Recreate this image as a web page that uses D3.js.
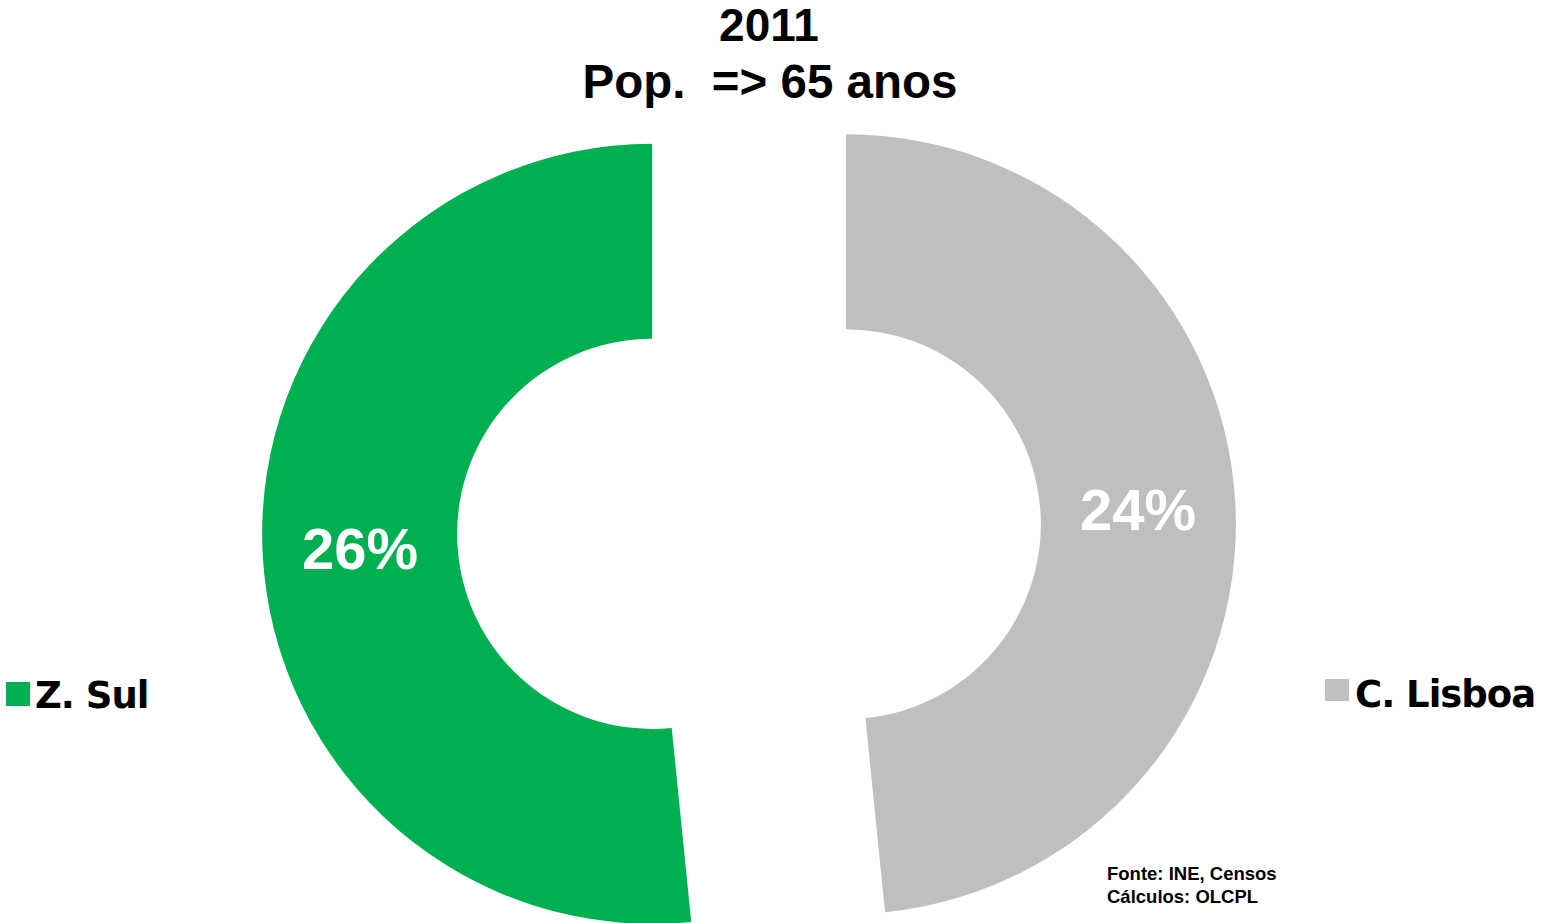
<!DOCTYPE html>
<html>
<head>
<meta charset="utf-8">
<script src="https://cdn.jsdelivr.net/npm/d3@7"></script>
<style>
  body { margin: 0; background: #fff; }
  svg { display: block; }
</style>
</head>
<body>
<svg width="1551" height="923" viewBox="0 0 1551 923"></svg>
<script>
// Data
const categories = ["C. Lisboa", "Z. Sul"];
const values = [24.2, 25.8];
const labels = ["24%", "26%"];
const colors = ["#BFBFBF", "#00B050"];
const titleLines = ["2011", "Pop.  => 65 anos"];
const sourceLines = ["Fonte: INE, Censos", "Cálculos: OLCPL"];

const svg = d3.select("svg");
const cx = 749, cy = 529;
const outerR = 390, innerR = 195;
const explode = 97;

const pie = d3.pie().sort(null).value(d => d.value);
const arc = d3.arc().innerRadius(innerR).outerRadius(outerR);

const data = categories.map((c, i) => ({ name: c, value: values[i], label: labels[i], color: colors[i] }));
const arcs = pie(data);

const chart = svg.append("g").attr("transform", `translate(${cx},${cy})`);

// Exploded slices
const slices = chart.selectAll(".slice")
    .data(arcs)
    .enter()
    .append("g")
    .attr("class", "slice")
    .attr("transform", d => {
        const mid = (d.startAngle + d.endAngle) / 2;
        return `translate(${Math.sin(mid) * explode},${-Math.cos(mid) * explode})`;
    });

slices.append("path")
    .attr("d", arc)
    .attr("fill", d => d.data.color);

slices.append("text")
    .attr("x", d => arc.centroid(d)[0])
    .attr("y", d => arc.centroid(d)[1])
    .attr("dy", "0.36em")
    .attr("text-anchor", "middle")
    .attr("fill", "#fff")
    .style("font-family", "'Liberation Sans', Arial, sans-serif")
    .style("font-weight", "bold")
    .style("font-size", "58px")
    .text(d => d.data.label);

// Title
svg.append("text")
    .attr("text-anchor", "middle")
    .style("font-family", "'Liberation Sans', Arial, sans-serif")
    .style("font-weight", "bold")
    .style("white-space", "pre")
    .selectAll("tspan")
    .data(titleLines)
    .enter()
    .append("tspan")
    .attr("x", (d, i) => i ? 770 : 769)
    .attr("y", (d, i) => 41 + i * 57)
    .style("font-size", (d, i) => i ? "47.5px" : "46px")
    .text(d => d);

// Legend
const legend = [
    { name: categories[1], color: colors[1], x: 6, y: 682, h: 24, tx: 35, ty: 708 },
    { name: categories[0], color: colors[0], x: 1325, y: 679, h: 22, tx: 1355, ty: 707 }
];
const lg = svg.selectAll(".legend")
    .data(legend)
    .enter()
    .append("g")
    .attr("class", "legend");
lg.append("rect")
    .attr("x", d => d.x)
    .attr("y", d => d.y)
    .attr("width", 24)
    .attr("height", d => d.h)
    .attr("fill", d => d.color);
lg.append("text")
    .attr("x", d => d.tx)
    .attr("y", d => d.ty)
    .attr("fill", "#000")
    .style("font-family", "'DejaVu Sans', sans-serif")
    .style("font-weight", "bold")
    .style("font-size", "37px")
    .style("letter-spacing", "-1px")
    .text(d => d.name);

// Source note
svg.append("text")
    .style("font-family", "'Liberation Sans', Arial, sans-serif")
    .style("font-weight", "bold")
    .style("font-size", "18.5px")
    .selectAll("tspan")
    .data(sourceLines)
    .enter()
    .append("tspan")
    .attr("x", 1107)
    .attr("y", (d, i) => 880 + i * 23)
    .text(d => d);
</script>
</body>
</html>
